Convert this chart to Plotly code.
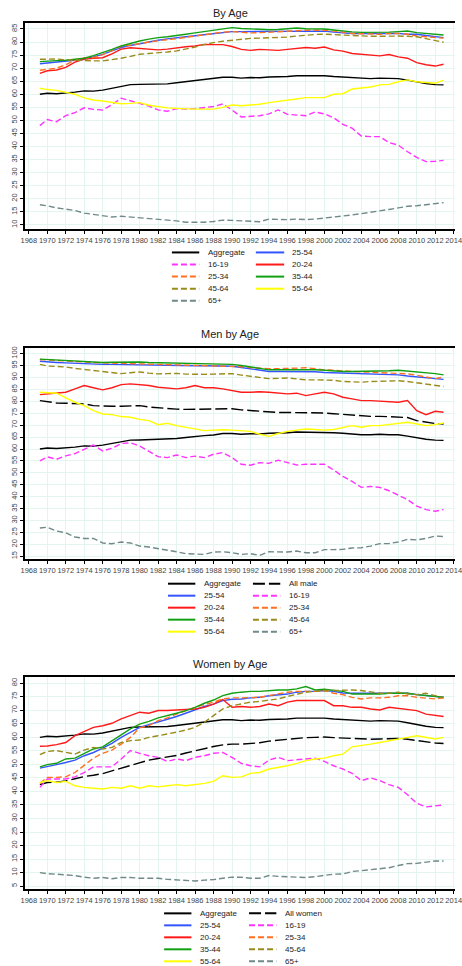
import plotly.graph_objects as go

W, H = 462, 966

years = [1969.2, 1970, 1971, 1972, 1973, 1974, 1975, 1976, 1977, 1978, 1979,
         1980, 1981, 1982, 1983, 1984, 1985, 1986, 1987, 1988, 1989,
         1990, 1991, 1992, 1993, 1994, 1995, 1996, 1997, 1998, 1999,
         2000, 2001, 2002, 2003, 2004, 2005, 2006, 2007, 2008, 2009,
         2010, 2011, 2012, 2012.9]

aggregate = [60.0, 60.4, 60.2, 60.4, 60.8, 61.3, 61.2, 61.6, 62.3, 63.2, 63.7, 63.8, 63.9, 64.0, 64.0,
             64.4, 64.8, 65.3, 65.6, 65.9, 66.5, 66.5, 66.2, 66.4, 66.3, 66.6, 66.6, 66.8, 67.1, 67.1,
             67.1, 67.1, 66.8, 66.6, 66.2, 66.0, 66.0, 66.2, 66.0, 66.0, 65.4, 64.7, 64.1, 63.7, 63.6]

# ---- Panel 1: By Age (both sexes)
all_16_19 = [48.0, 50.3, 49.5, 51.8, 53.0, 54.8, 54.2, 54.0, 56.0, 58.5, 57.5, 56.5, 55.5, 54.0, 53.5,
             54.5, 54.3, 54.5, 55.0, 55.3, 56.3, 54.0, 51.3, 51.5, 51.8, 52.5, 54.0, 52.3, 52.0, 51.8,
             53.2, 52.5, 51.0, 48.5, 47.0, 44.0, 43.8, 43.8, 41.5, 40.5, 38.0, 35.8, 34.2, 34.3, 34.7]
all_20_24 = [68.0, 69.0, 69.3, 70.3, 72.3, 73.5, 73.8, 74.0, 75.5, 77.3, 77.8, 77.5, 77.3, 77.0, 77.3,
             77.8, 78.2, 78.5, 79.1, 79.0, 79.0, 78.3, 77.2, 76.8, 77.2, 77.0, 76.8, 77.2, 77.6, 77.9,
             77.6, 78.1, 77.0, 76.5, 75.6, 75.3, 75.0, 74.7, 75.2, 74.3, 73.8, 72.1, 71.3, 70.8, 71.5]
all_25_54 = [71.7, 72.0, 72.2, 72.6, 73.0, 73.4, 74.3, 75.3, 76.6, 77.9, 78.7, 79.4, 80.0, 80.7, 81.2,
             81.7, 82.0, 82.4, 82.8, 83.2, 83.6, 84.0, 84.0, 84.0, 84.0, 84.0, 84.1, 84.2, 84.2, 84.2,
             84.2, 84.2, 83.8, 83.5, 83.3, 83.3, 83.3, 83.3, 83.3, 83.3, 83.0, 83.0, 82.5, 82.0, 81.7]
all_25_34 = [69.2, 69.5, 70.0, 71.3, 73.0, 74.0, 74.0, 75.2, 76.8, 78.3, 78.8, 79.5, 80.0, 80.5, 80.8,
             81.3, 81.8, 82.3, 82.8, 83.3, 83.8, 84.0, 83.7, 83.5, 83.6, 83.8, 84.0, 84.0, 84.3, 84.5,
             84.5, 84.5, 84.2, 83.7, 83.3, 83.2, 83.0, 83.0, 83.3, 83.3, 83.0, 82.3, 82.0, 81.8, 81.5]
all_35_44 = [72.5, 72.8, 72.9, 73.0, 73.4, 73.8, 74.8, 75.9, 77.2, 78.5, 79.5, 80.4, 81.1, 81.7, 82.0,
             82.4, 83.0, 83.5, 84.0, 84.5, 85.0, 85.5, 85.2, 85.0, 84.8, 84.7, 84.8, 85.0, 85.4, 85.1,
             85.0, 85.0, 84.6, 84.2, 83.9, 83.7, 83.7, 83.7, 83.8, 84.0, 84.2, 83.6, 83.3, 83.0, 82.7]
all_45_64 = [73.4, 73.5, 73.5, 73.2, 73.0, 73.0, 72.8, 72.8, 73.2, 73.8, 74.5, 75.3, 75.6, 75.8, 76.2,
             76.6, 77.3, 78.1, 79.0, 79.8, 80.3, 80.7, 81.0, 81.4, 81.5, 81.6, 81.8, 81.9, 82.3, 82.7,
             82.9, 83.0, 82.8, 82.7, 82.5, 82.3, 82.2, 82.2, 82.3, 82.3, 82.2, 82.0, 81.3, 80.6, 79.9]
all_55_64 = [62.3, 61.8, 61.5, 60.8, 60.0, 58.6, 57.8, 57.4, 56.8, 56.4, 56.5, 56.8, 55.8, 55.2, 54.8,
             54.6, 54.4, 54.3, 54.3, 54.3, 55.0, 55.9, 55.6, 55.8, 56.2, 56.8, 57.2, 57.7, 58.2, 58.7,
             58.8, 58.7, 60.0, 60.2, 62.0, 62.3, 62.8, 63.6, 63.8, 64.8, 65.5, 64.8, 64.5, 64.2, 65.4]
all_65_up = [17.7, 17.3, 16.5, 16.0, 15.5, 14.5, 14.0, 13.5, 13.0, 13.3, 13.0, 12.8, 12.3, 12.0, 11.8,
             11.5, 11.0, 10.9, 11.0, 11.3, 11.8, 11.7, 11.5, 11.3, 11.2, 12.2, 12.1, 12.0, 12.2, 12.0,
             12.2, 12.6, 13.0, 13.2, 13.8, 14.3, 14.8, 15.2, 15.9, 16.5, 17.1, 17.3, 17.7, 18.3, 18.5]

# ---- Panel 2: Men by Age
men_all = [80.3, 79.8, 79.3, 79.2, 79.0, 78.9, 78.2, 77.9, 77.9, 77.9, 78.0, 78.2, 77.6, 77.2, 76.8,
           76.7, 76.6, 76.6, 76.6, 76.6, 76.8, 76.9, 76.4, 76.1, 75.8, 75.4, 75.3, 75.3, 75.3, 75.2,
           75.1, 75.1, 74.8, 74.5, 74.0, 73.8, 73.7, 73.7, 73.6, 73.6, 73.2, 71.9, 71.3, 70.7, 70.5]
men_16_19 = [55.0, 56.7, 55.7, 57.1, 58.1, 59.9, 61.7, 59.2, 60.3, 62.3, 62.6, 61.3, 59.2, 56.8, 56.4,
             57.5, 56.4, 57.0, 56.4, 57.8, 58.5, 56.4, 53.6, 53.2, 54.3, 54.0, 55.3, 54.3, 53.3, 53.6,
             53.6, 53.6, 51.2, 48.5, 46.4, 43.9, 44.3, 43.9, 42.5, 40.6, 38.8, 36.0, 34.6, 33.9, 34.6]
men_20_24 = [82.8, 83.1, 83.4, 83.8, 85.2, 86.6, 85.7, 84.8, 85.7, 87.0, 87.3, 87.0, 86.6, 85.9, 85.7,
             85.2, 85.7, 86.6, 85.7, 85.7, 85.2, 84.5, 83.8, 83.8, 84.0, 83.8, 83.4, 83.1, 83.4, 82.4,
             83.1, 83.8, 83.1, 81.7, 81.0, 80.3, 80.3, 80.0, 80.0, 79.6, 80.3, 76.1, 74.4, 75.8, 75.4]
men_25_54 = [96.8, 96.5, 96.3, 96.1, 95.9, 95.8, 95.6, 95.5, 95.5, 95.4, 95.4, 95.4, 95.3, 95.2, 95.1,
             95.1, 95.0, 94.9, 94.9, 94.8, 94.7, 94.7, 94.2, 93.7, 93.0, 92.5, 92.5, 92.5, 92.6, 92.7,
             92.4, 92.1, 92.0, 91.8, 91.7, 91.6, 91.6, 91.6, 91.5, 91.1, 90.6, 90.2, 89.8, 89.3, 89.2]
men_25_34 = [97.5, 97.3, 97.1, 96.9, 96.6, 96.4, 96.2, 96.1, 96.0, 95.9, 95.9, 95.8, 95.7, 95.6, 95.5,
             95.4, 95.3, 95.2, 95.1, 95.1, 95.0, 94.8, 94.5, 94.1, 93.8, 93.7, 93.7, 93.7, 93.9, 94.1,
             93.6, 93.2, 93.0, 92.7, 92.5, 92.3, 92.2, 92.1, 92.0, 91.8, 91.5, 90.9, 90.2, 89.5, 90.2]
men_35_44 = [97.7, 97.5, 97.4, 97.2, 96.9, 96.6, 96.4, 96.3, 96.4, 96.5, 96.5, 96.5, 96.3, 96.2, 96.1,
             96.1, 96.0, 96.0, 95.9, 95.8, 95.7, 95.5, 95.0, 94.4, 93.8, 93.2, 93.2, 93.2, 93.3, 93.4,
             93.2, 93.0, 92.7, 92.5, 92.5, 92.5, 92.6, 92.7, 92.8, 93.0, 92.7, 92.3, 92.0, 91.6, 91.1]
men_45_64 = [95.5, 94.8, 94.6, 94.4, 93.8, 93.4, 93.0, 92.5, 92.0, 91.6, 92.0, 92.3, 91.8, 91.5, 91.6,
             91.7, 91.4, 91.2, 91.3, 91.4, 91.4, 91.6, 91.0, 90.4, 89.8, 89.5, 89.6, 89.8, 89.4, 89.0,
             89.0, 89.0, 88.8, 88.3, 88.0, 88.0, 88.3, 88.5, 88.7, 88.6, 88.3, 87.8, 87.3, 86.6, 86.2]
men_55_64 = [83.8, 83.5, 83.4, 81.4, 79.6, 78.2, 76.1, 74.7, 74.4, 73.6, 73.3, 72.4, 71.9, 70.2, 70.8,
             69.8, 69.1, 68.4, 67.7, 67.9, 68.1, 67.9, 67.7, 67.4, 66.2, 65.3, 66.5, 67.4, 67.9, 68.4,
             68.2, 67.9, 68.2, 69.1, 69.8, 69.1, 69.8, 69.8, 70.2, 70.8, 71.2, 70.5, 69.8, 70.2, 70.9]
men_65_up = [26.9, 27.2, 25.6, 24.9, 23.1, 22.5, 22.5, 20.6, 20.3, 21.0, 20.6, 19.3, 18.9, 18.3, 17.8,
             16.9, 16.1, 16.1, 15.8, 16.8, 16.9, 16.5, 15.8, 16.1, 15.4, 16.9, 16.9, 16.8, 17.2, 16.5,
             16.5, 17.8, 17.8, 17.9, 18.5, 18.6, 19.3, 20.3, 20.4, 21.0, 22.1, 21.9, 22.5, 23.5, 23.3]

# ---- Panel 3: Women by Age
wom_all = [42.5, 43.3, 43.4, 43.9, 44.7, 45.5, 46.0, 46.6, 47.6, 48.6, 49.8, 50.8, 51.6, 52.2, 52.7,
           53.3, 54.2, 55.0, 55.9, 56.6, 57.2, 57.5, 57.5, 57.8, 58.0, 58.6, 58.9, 59.3, 59.7, 59.9,
           60.0, 60.1, 59.9, 59.7, 59.5, 59.3, 59.3, 59.4, 59.4, 59.6, 59.3, 58.8, 58.3, 57.9, 57.7]
wom_16_19 = [41.5, 44.6, 44.6, 44.6, 45.4, 47.0, 49.1, 49.1, 49.1, 52.0, 55.1, 54.1, 53.2, 52.6, 51.1,
             52.0, 51.4, 52.6, 53.2, 54.1, 54.4, 52.6, 50.4, 49.5, 49.1, 51.6, 52.6, 51.4, 51.6, 52.0,
             52.3, 51.1, 49.5, 48.3, 46.7, 44.0, 45.0, 44.0, 42.5, 41.5, 38.8, 35.6, 34.3, 34.7, 35.0]
wom_20_24 = [56.7, 56.8, 57.3, 58.1, 60.6, 62.2, 63.7, 64.3, 65.2, 66.8, 68.0, 69.3, 68.9, 69.9, 69.9,
             70.1, 70.1, 70.5, 71.1, 72.3, 74.0, 71.1, 71.4, 71.1, 71.4, 72.3, 71.7, 73.0, 73.6, 73.6,
             73.8, 73.6, 71.7, 71.7, 71.1, 71.1, 70.5, 70.1, 71.1, 70.7, 70.5, 69.9, 68.6, 68.0, 67.7]
wom_25_54 = [48.6, 49.3, 49.9, 50.7, 51.6, 53.2, 54.4, 56.0, 57.8, 60.0, 61.9, 63.7, 64.7, 65.6, 66.7,
             67.7, 68.9, 70.1, 71.4, 72.3, 73.6, 74.1, 74.2, 74.6, 74.8, 75.4, 75.8, 76.0, 76.7, 77.0,
             77.0, 77.3, 77.0, 76.4, 76.3, 76.3, 76.2, 76.3, 76.4, 76.4, 76.3, 75.8, 75.5, 75.1, 74.8]
wom_25_34 = [43.0, 45.2, 45.2, 45.4, 47.0, 49.5, 52.3, 54.1, 55.3, 57.5, 60.0, 63.5, 64.3, 66.2, 67.2,
             68.6, 69.9, 71.1, 72.1, 73.0, 74.2, 74.6, 74.6, 74.6, 74.8, 75.4, 76.0, 76.7, 77.0, 77.0,
             77.0, 77.3, 76.3, 75.8, 74.8, 74.2, 74.6, 74.6, 74.8, 75.4, 75.4, 74.8, 74.6, 74.2, 74.6]
wom_35_44 = [49.1, 49.9, 50.4, 52.0, 52.3, 54.1, 55.7, 56.5, 58.8, 61.0, 63.1, 64.9, 65.9, 67.2, 68.0,
             68.9, 69.9, 71.1, 72.6, 73.8, 75.4, 76.3, 76.7, 77.0, 77.0, 77.3, 77.5, 77.5, 77.9, 78.8,
             77.5, 77.8, 77.5, 77.0, 76.0, 76.0, 76.0, 76.0, 76.3, 76.3, 76.3, 75.8, 75.4, 75.1, 74.8]
wom_45_64 = [53.6, 54.8, 55.1, 54.4, 53.8, 55.3, 56.3, 55.7, 56.3, 58.1, 58.8, 59.0, 60.0, 60.6, 61.2,
             61.9, 62.7, 63.7, 65.6, 68.0, 70.5, 71.7, 72.3, 73.0, 73.3, 73.8, 74.2, 75.1, 76.0, 76.7,
             77.0, 77.3, 77.3, 77.5, 77.5, 77.3, 76.7, 76.3, 76.3, 76.7, 76.0, 75.8, 76.3, 75.4, 74.6]
wom_55_64 = [43.3, 44.0, 43.3, 43.7, 42.1, 41.5, 41.2, 40.9, 41.5, 41.2, 42.1, 41.2, 42.1, 41.7, 42.1,
             42.5, 42.1, 42.5, 43.0, 43.7, 45.8, 45.2, 45.4, 46.7, 47.0, 48.3, 48.9, 49.5, 50.4, 51.4,
             52.0, 52.3, 53.2, 53.8, 56.5, 56.9, 57.5, 58.1, 58.8, 59.4, 60.0, 60.6, 60.0, 59.4, 60.0]
wom_65_up = [10.0, 9.6, 9.4, 9.1, 8.9, 8.3, 7.9, 8.2, 7.7, 8.2, 8.2, 7.9, 7.9, 7.9, 7.5,
             7.3, 6.9, 6.9, 7.2, 7.4, 7.9, 8.3, 8.3, 7.9, 7.9, 8.9, 8.6, 8.4, 8.2, 8.2,
             8.5, 8.9, 9.4, 9.5, 10.4, 10.7, 11.1, 11.4, 11.8, 12.6, 13.3, 13.4, 13.8, 14.3, 14.3]

panel_titles = ["By Age", "Men by Age", "Women by Age"]
x_ticks = list(range(1968, 2015, 2))

# styles
C = {"Aggregate": ("#000000", "solid"),
     "All": ("#000000", "12px,4px"),
     "16-19": ("#ff33ff", "6px,3px"),
     "20-24": ("#ff1a1a", "solid"),
     "25-54": ("#3355ff", "solid"),
     "25-34": ("#ff7020", "6px,3px"),
     "35-44": ("#12a012", "solid"),
     "45-64": ("#9a8c1c", "6px,3px"),
     "55-64": ("#ffff00", "solid"),
     "65+": ("#6f8a88", "6px,3px")}

panel1 = [("Aggregate", "Aggregate", aggregate), ("25-54", "25-54", all_25_54),
          ("16-19", "16-19", all_16_19), ("20-24", "20-24", all_20_24),
          ("25-34", "25-34", all_25_34), ("35-44", "35-44", all_35_44),
          ("45-64", "45-64", all_45_64), ("55-64", "55-64", all_55_64),
          ("65+", "65+", all_65_up)]
panel2 = [("Aggregate", "Aggregate", aggregate), ("All", "All male", men_all),
          ("25-54", "25-54", men_25_54), ("16-19", "16-19", men_16_19),
          ("20-24", "20-24", men_20_24), ("25-34", "25-34", men_25_34),
          ("35-44", "35-44", men_35_44), ("45-64", "45-64", men_45_64),
          ("55-64", "55-64", men_55_64), ("65+", "65+", men_65_up)]
panel3 = [("Aggregate", "Aggregate", aggregate), ("All", "All women", wom_all),
          ("25-54", "25-54", wom_25_54), ("16-19", "16-19", wom_16_19),
          ("20-24", "20-24", wom_20_24), ("25-34", "25-34", wom_25_34),
          ("35-44", "35-44", wom_35_44), ("45-64", "45-64", wom_45_64),
          ("55-64", "55-64", wom_55_64), ("65+", "65+", wom_65_up)]
panels = [panel1, panel2, panel3]

# layout geometry (pixels)
plot_px = [(22, 228), (347, 559), (677, 889)]
y_ranges = [[8.5, 87.3], [13.7, 102.5], [3.9, 82.2]]
y_tick0 = [10, 15, 5]
title_px = [12, 333, 664]
leg_geo = [  # left line x0,x1,text, right line x0,x1,text, first row y, row step
    (172, 200, 207, 258, 287, 293, 251.7, 12.1),
    (168, 196, 203, 255, 283, 290, 583.3, 12.0),
    (164, 192, 199, 251, 279, 286, 913.3, 12.0),
]

def px(x):
    return x / W

def py(y):
    return 1 - y / H

fig = go.Figure()
layout = dict(width=W, height=H, margin=dict(l=0, r=0, t=0, b=0), autosize=False,
              paper_bgcolor="white", plot_bgcolor="white", showlegend=False,
              font=dict(family="Liberation Sans, Arial, sans-serif", color="#333"))
shapes, annotations = [], []
grid = "#e4f5f0"
tickfont = dict(size=7.5, color="#444", family="Liberation Sans, Arial, sans-serif")

for i, panel in enumerate(panels):
    sfx = "" if i == 0 else str(i + 1)
    for key, name, vals in panel:
        col, dash = C[key]
        fig.add_trace(go.Scatter(x=years, y=vals, mode="lines", name=name,
                                 line=dict(color=col, width=1.4, dash=dash),
                                 xaxis="x" + sfx, yaxis="y" + sfx))
    top, bot = plot_px[i]
    layout["xaxis" + sfx] = dict(domain=[px(21), 1.0], range=[1967.535, 2014.14],
                                 anchor="y" + sfx, tickvals=x_ticks, ticks="outside",
                                 ticklen=3, tickwidth=1, tickcolor="black",
                                 ticklabeloverflow="allow", tickangle=0,
                                 showline=True, linewidth=2, linecolor="black", mirror=True,
                                 showgrid=True, gridcolor=grid, gridwidth=1,
                                 zeroline=False, tickfont=tickfont)
    layout["yaxis" + sfx] = dict(domain=[py(bot), py(top)], range=y_ranges[i],
                                 anchor="x" + sfx, tick0=y_tick0[i], dtick=5,
                                 ticks="outside", ticklen=3, tickwidth=1, tickcolor="black",
                                 tickangle=-90, showline=True, linewidth=2, linecolor="black",
                                 showgrid=True, gridcolor=grid, gridwidth=1,
                                 zeroline=False, tickfont=tickfont)
    annotations.append(dict(text=panel_titles[i], x=px(232), y=py(title_px[i]),
                            xref="paper", yref="paper", showarrow=False,
                            xanchor="center", yanchor="middle",
                            font=dict(size=11, color="#222")))
    lx0, lx1, ltx, rx0, rx1, rtx, ry0, rstep = leg_geo[i]
    for j, (key, name, vals) in enumerate(panel):
        col, dash = C[key]
        row, c = divmod(j, 2)
        yy = ry0 + row * rstep
        x0, x1, tx = (lx0, lx1, ltx) if c == 0 else (rx0, rx1, rtx)
        shapes.append(dict(type="line", xref="paper", yref="paper",
                           x0=px(x0), x1=px(x1), y0=py(yy), y1=py(yy),
                           line=dict(color=col, width=2, dash=dash)))
        annotations.append(dict(text=name, x=px(tx), y=py(yy), xref="paper", yref="paper",
                                showarrow=False, xanchor="left", yanchor="middle",
                                font=dict(size=8, color="#222")))

layout["shapes"] = shapes
layout["annotations"] = annotations
fig.update_layout(**layout)
fig.write_html("out.html",
               config={"displayModeBar": False, "staticPlot": True},
               post_script="document.body.style.margin='0px';"
                           "document.body.style.overflow='hidden';")
